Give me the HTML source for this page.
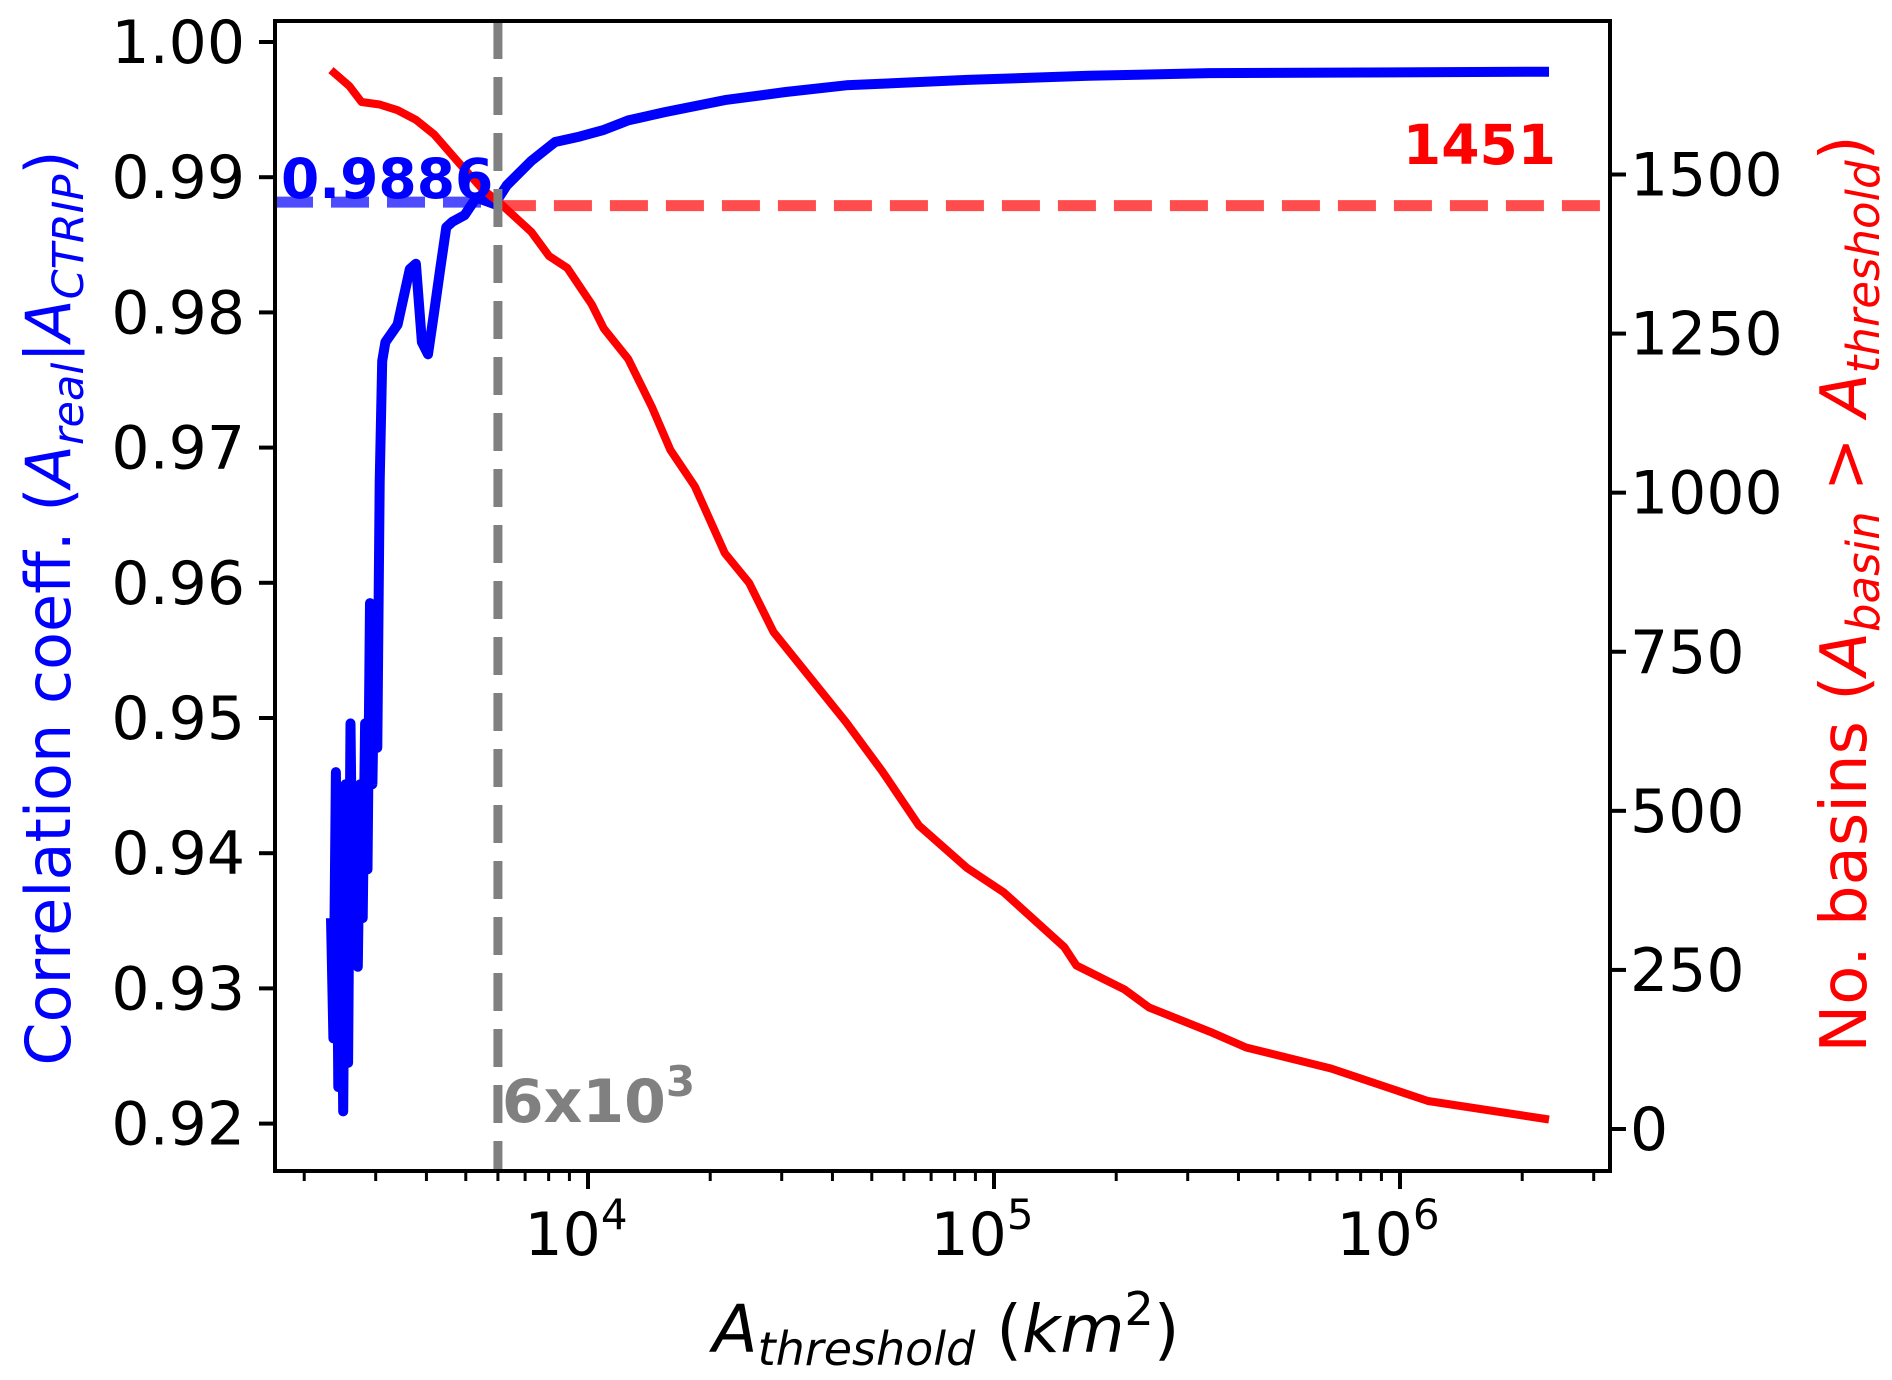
<!DOCTYPE html>
<html><head><meta charset="utf-8"><style>
html,body{margin:0;padding:0;background:#fff;}
svg{display:block;font-family:"DejaVu Sans","Liberation Sans",sans-serif;}
</style></head><body>
<svg id="chart" width="1892" height="1380" viewBox="0 0 1892 1380" xmlns="http://www.w3.org/2000/svg">
<g id="plot"></g>
</svg>
<script>
const redLogArea=[3.367,3.412,3.442,3.487,3.531,3.576,3.621,3.681,3.740,3.785,3.860,3.904,3.949,4.009,4.039,4.099,4.158,4.203,4.263,4.337,4.397,4.457,4.516,4.636,4.725,4.815,4.934,5.024,5.173,5.203,5.322,5.382,5.531,5.621,5.830,6.069,6.367];
const redCount=[1664,1639,1614,1610,1601,1586,1563,1519,1477,1454,1410,1372,1353,1296,1258,1210,1134,1067,1010,905,858,781,734,639,562,477,410,372,286,257,219,191,153,128,95,44,15];
const blueLogArea=[3.367,3.373,3.379,3.385,3.391,3.397,3.403,3.409,3.415,3.421,3.427,3.433,3.439,3.445,3.451,3.457,3.463,3.469,3.475,3.481,3.487,3.493,3.501,3.531,3.561,3.576,3.591,3.606,3.621,3.636,3.651,3.666,3.696,3.725,3.770,3.800,3.860,3.919,3.979,4.039,4.099,4.188,4.337,4.487,4.636,4.934,5.233,5.531,6.367];
const blueCorr=[0.9352,0.9263,0.9460,0.9227,0.9406,0.9209,0.9451,0.9245,0.9496,0.9334,0.9406,0.9316,0.9451,0.9352,0.9496,0.9388,0.9585,0.9451,0.9567,0.9478,0.9675,0.9764,0.9778,0.9791,0.9832,0.9836,0.9778,0.9769,0.9800,0.9832,0.9863,0.9867,0.9872,0.9885,0.9880,0.9894,0.9912,0.9926,0.9930,0.9935,0.9942,0.9948,0.9957,0.9963,0.9968,0.9972,0.9975,0.9977,0.9978];
const leftTicks=[0.92,0.93,0.94,0.95,0.96,0.97,0.98,0.99,1.00];
const rightTicks=[0,250,500,750,1000,1250,1500];
const xMajorExp=[4,5,6];
const thresholdArea=6000;
const thresholdCorr=0.9886;
const thresholdCount=1451;

const L=275,R=1610,T=21,B=1171;
function xs(lg){return 588+(lg-4)*406;}
function yl(r){return 42+(1-r)/0.01*135.2;}
function yr(c){return 1129-c/1500*954.5;}
const NS="http://www.w3.org/2000/svg";
const g=document.getElementById('plot');
function el(tag,attrs,parent){const e=document.createElementNS(NS,tag);for(const k in attrs)e.setAttribute(k,attrs[k]);(parent||g).appendChild(e);return e;}

const lx=xs(Math.log10(thresholdArea));
let e;
e=el('line',{x1:L,x2:lx,y1:yl(thresholdCorr)+6,y2:yl(thresholdCorr)+6,stroke:'#4d4dff','stroke-width':11,'stroke-dasharray':'38,18'});


e=el('line',{x1:lx,x2:R,y1:yr(thresholdCount),y2:yr(thresholdCount),stroke:'#ff4d4d','stroke-width':11,'stroke-dasharray':'38,18'});



let d=blueLogArea.map((v,i)=>(i?'L':'M')+xs(v).toFixed(1)+','+yl(blueCorr[i]).toFixed(1)).join(' ');
e=el('path',{d:d,fill:'none',stroke:'#0000ff','stroke-width':10,'stroke-linejoin':'round'});


d=redLogArea.map((v,i)=>(i?'L':'M')+xs(v).toFixed(1)+','+yr(redCount[i]).toFixed(1)).join(' ');
e=el('path',{d:d,fill:'none',stroke:'#ff0000','stroke-width':8,'stroke-linejoin':'round'});



e=el('line',{x1:lx,x2:lx,y1:T,y2:B,stroke:'#808080','stroke-width':9,'stroke-dasharray':'38,18'});



e=el('text',{x:281,y:198,fill:'#0000ff','font-size':55,'font-weight':'bold'});e.textContent=thresholdCorr.toFixed(4);


e=el('text',{x:1556,y:164,fill:'#ff0000','font-size':55,'font-weight':'bold','text-anchor':'end'});e.textContent=String(thresholdCount);


e=el('text',{x:lx+4,y:1122,fill:'#808080','font-size':60,'font-weight':'bold'});e.innerHTML='6x10<tspan dy="-26" font-size="42">3</tspan>';



e=el('rect',{x:L,y:T,width:R-L,height:B-T,fill:'none',stroke:'#000','stroke-width':4});



leftTicks.forEach(v=>{const y=yl(v);
 el('line',{x1:L-16,x2:L,y1:y,y2:y,stroke:'#000','stroke-width':4});
 const t=el('text',{x:L-30,y:y+21,'font-size':60,'text-anchor':'end',fill:'#000'});t.textContent=v.toFixed(2);
 
 
});
rightTicks.forEach(v=>{const y=yr(v);
 el('line',{x1:R,x2:R+16,y1:y,y2:y,stroke:'#000','stroke-width':4});
 const t=el('text',{x:R+20,y:y+21,'font-size':60,fill:'#000'});t.textContent=String(v);
 
 
});
for(let k=3;k<=6;k++){for(let m=1;m<=9;m++){const lg=k+Math.log10(m);const x=xs(lg);if(x<L||x>R)continue;
 el('line',{x1:x,x2:x,y1:B,y2:B+(m===1?18:10),stroke:'#000','stroke-width':m===1?4:3});}}
xMajorExp.forEach(k=>{const x=xs(k);
 const t=el('text',{x:x-12,y:1255,'font-size':60,'text-anchor':'middle',fill:'#000'});t.innerHTML='10<tspan dy="-26" font-size="42">'+k+'</tspan>';
 
 
});

e=el('text',{x:946,y:1352,'font-size':66,'text-anchor':'middle',fill:'#000'});
e.innerHTML='<tspan font-style="italic">A</tspan><tspan font-style="italic" font-size="46" dy="13">threshold</tspan><tspan dy="-13"> (</tspan><tspan font-style="italic">km</tspan><tspan dy="-27" font-size="46">2</tspan><tspan dy="27">)</tspan>';


e=el('text',{x:0,y:0,'font-size':62,'text-anchor':'middle',fill:'#0000ff',transform:'translate(70,608) rotate(-90)'});
e.innerHTML='Correlation coeff. (<tspan font-style="italic">A</tspan><tspan font-style="italic" font-size="43" dy="13">real</tspan><tspan dy="-13">|</tspan><tspan font-style="italic">A</tspan><tspan font-style="italic" font-size="43" dy="13">CTRIP</tspan><tspan dy="-13">)</tspan>';


e=el('text',{x:0,y:0,'font-size':64,'text-anchor':'middle',fill:'#ff0000',transform:'translate(1866,594) rotate(-90)'});
e.innerHTML='No. basins (<tspan font-style="italic">A</tspan><tspan font-style="italic" font-size="45" dy="13">basin</tspan><tspan dy="-13"> &gt; </tspan><tspan font-style="italic">A</tspan><tspan font-style="italic" font-size="45" dy="13">threshold</tspan><tspan dy="-13">)</tspan>';


</script>
</body></html>
